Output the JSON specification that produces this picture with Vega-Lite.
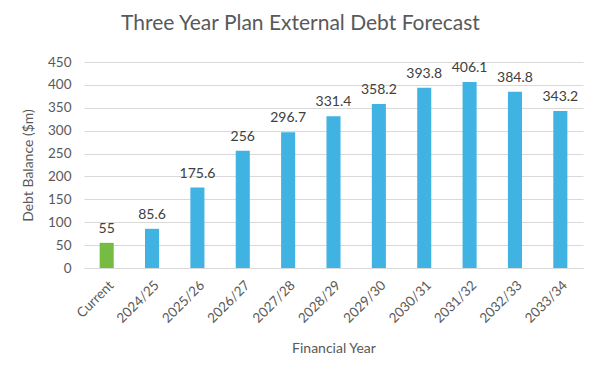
{
  "$schema": "https://vega.github.io/schema/vega-lite/v6.json",
  "autosize": {"type": "none"},
  "width": 499,
  "height": 206,
  "padding": {"left": 84, "top": 62, "right": 19, "bottom": 107},
  "background": "white",
  "title": {
    "text": "Three Year Plan External Debt Forecast",
    "fontSize": 21,
    "font": "Lato",
    "fontWeight": "normal",
    "color": "#595959",
    "anchor": "middle",
    "dx": -33,
    "offset": 21
  },
  "data": {
    "values": [
      {"year": "Current", "value": 55, "kind": "Current"},
      {"year": "2024/25", "value": 85.6, "kind": "Forecast"},
      {"year": "2025/26", "value": 175.6, "kind": "Forecast"},
      {"year": "2026/27", "value": 256, "kind": "Forecast"},
      {"year": "2027/28", "value": 296.7, "kind": "Forecast"},
      {"year": "2028/29", "value": 331.4, "kind": "Forecast"},
      {"year": "2029/30", "value": 358.2, "kind": "Forecast"},
      {"year": "2030/31", "value": 393.8, "kind": "Forecast"},
      {"year": "2031/32", "value": 406.1, "kind": "Forecast"},
      {"year": "2032/33", "value": 384.8, "kind": "Forecast"},
      {"year": "2033/34", "value": 343.2, "kind": "Forecast"}
    ]
  },
  "encoding": {
    "x": {
      "field": "year",
      "type": "nominal",
      "sort": null,
      "scale": {"paddingInner": 0.69, "paddingOuter": 0.345},
      "axis": {
        "title": "Financial Year",
        "titleFontSize": 14,
        "titleFont": "Lato",
        "titleFontWeight": "normal",
        "titleColor": "#595959",
        "titlePadding": 16,
        "labelAngle": -45,
        "labelFontSize": 13.5,
        "labelFont": "Lato",
        "labelColor": "#595959",
        "labelPadding": 10,
        "ticks": false,
        "domainColor": "#D9D9D9",
        "domainWidth": 1
      }
    },
    "y": {
      "field": "value",
      "type": "quantitative",
      "scale": {"domain": [0, 450]},
      "axis": {
        "title": "Debt Balance ($m)",
        "titleFontSize": 14,
        "titleFont": "Lato",
        "titleFontWeight": "normal",
        "titleColor": "#595959",
        "titlePadding": 12,
        "values": [0, 50, 100, 150, 200, 250, 300, 350, 400, 450],
        "labelFontSize": 13.5,
        "labelFont": "Lato",
        "labelColor": "#595959",
        "labelPadding": 13,
        "ticks": false,
        "domain": false,
        "gridColor": "#D9D9D9",
        "gridWidth": 1
      }
    }
  },
  "layer": [
    {
      "mark": {"type": "bar"},
      "encoding": {
        "color": {
          "field": "kind",
          "type": "nominal",
          "scale": {"domain": ["Current", "Forecast"], "range": ["#76BC43", "#41B3E3"]},
          "legend": null
        }
      }
    },
    {
      "mark": {"type": "text", "baseline": "bottom", "dy": -7, "fontSize": 14, "font": "Lato", "color": "#404040"},
      "encoding": {
        "text": {"field": "value", "type": "quantitative", "format": "~f"}
      }
    }
  ],
  "config": {
    "view": {"stroke": null}
  }
}
